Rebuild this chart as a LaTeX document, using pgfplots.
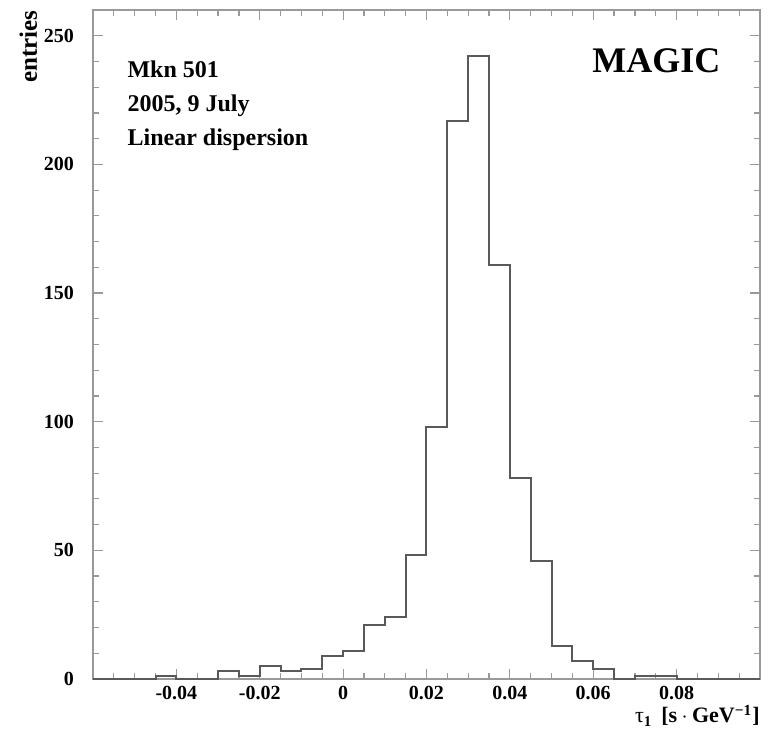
\documentclass[border=0pt]{standalone}
\usepackage{fontspec}
\setmainfont{Liberation Serif}
\usepackage{pgfplots}
\pgfplotsset{compat=1.18}
\begin{document}
\begin{tikzpicture}
\begin{axis}[
  scale only axis, width=333.5pt, height=334.5pt,
  xmin=-0.06, xmax=0.1, ymin=0, ymax=260,
  scaled ticks=false,
  xtick={-0.04,-0.02,0,0.02,0.04,0.06,0.08},
  xticklabels={-0.04,-0.02,0,0.02,0.04,0.06,0.08},
  minor xtick={-0.055,-0.05,-0.045,-0.035,-0.03,-0.025,-0.015,-0.01,-0.005,0.005,0.01,0.015,0.025,0.03,0.035,0.045,0.05,0.055,0.065,0.07,0.075,0.085,0.09,0.095},
  ytick={0,50,100,150,200,250},
  minor ytick={10,20,30,40,60,70,80,90,110,120,130,140,160,170,180,190,210,220,230,240},
  tick align=inside, major tick length=5pt, minor tick length=3pt,
  axis line style={black!40, line width=0.8pt},
  tick style={black!40, line width=0.6pt},
  ticklabel style={font=\bfseries\fontsize{10}{12}\selectfont},
  yticklabel style={xshift=-6pt},
  /pgf/number format/assume math mode=true,
  clip=false,
]
\addplot[const plot, draw=black!65, line width=1pt] coordinates {
(-0.060,0) (-0.055,0) (-0.050,0) (-0.045,1) (-0.040,0) (-0.035,0)
(-0.030,3) (-0.025,1) (-0.020,5) (-0.015,3) (-0.010,4) (-0.005,9)
(0.000,11) (0.005,21) (0.010,24) (0.015,48) (0.020,98) (0.025,217)
(0.030,242) (0.035,161) (0.040,78) (0.045,46) (0.050,13) (0.055,7)
(0.060,4) (0.065,0) (0.070,1) (0.075,1) (0.080,0) (0.085,0)
(0.090,0) (0.095,0) (0.100,0)
};
\node[anchor=base west, inner sep=0pt, font=\bfseries\fontsize{12}{14}\selectfont] at (axis cs:-0.0518,233.6) {Mkn 501};
\node[anchor=base west, inner sep=0pt, font=\bfseries\fontsize{12}{14}\selectfont] at (axis cs:-0.0518,220.5) {2005, 9 July};
\node[anchor=base west, inner sep=0pt, font=\bfseries\fontsize{12}{14}\selectfont] at (axis cs:-0.0518,207.5) {Linear dispersion};
\node[anchor=base east, inner sep=0pt, font=\bfseries\fontsize{18}{20}\selectfont] at (axis cs:0.0906,235.9) {MAGIC};
\node[anchor=base east, rotate=90, inner sep=0pt, font=\bfseries\fontsize{12.5}{14}\selectfont] at ([xshift=-28pt]rel axis cs:0,1) {entries};
\node[anchor=base east, inner sep=0pt, font=\fontsize{11}{13}\selectfont] at ([yshift=-22pt]rel axis cs:1,0) {τ\raisebox{-0.35ex}{\fontsize{7.5}{9}\selectfont\bfseries 1}\hspace{0.45em}\textbf{[s\hspace{0.2em}$\cdot$\hspace{0.2em}GeV\textsuperscript{−1}]}};
\coordinate (ll) at (rel axis cs:0,0);
\coordinate (ur) at (rel axis cs:1,1);
\end{axis}
\pgfresetboundingbox
\path ([shift={(-46.5pt,-29pt)}]ll) rectangle ([shift={(6pt,5pt)}]ur);
\end{tikzpicture}
\end{document}
